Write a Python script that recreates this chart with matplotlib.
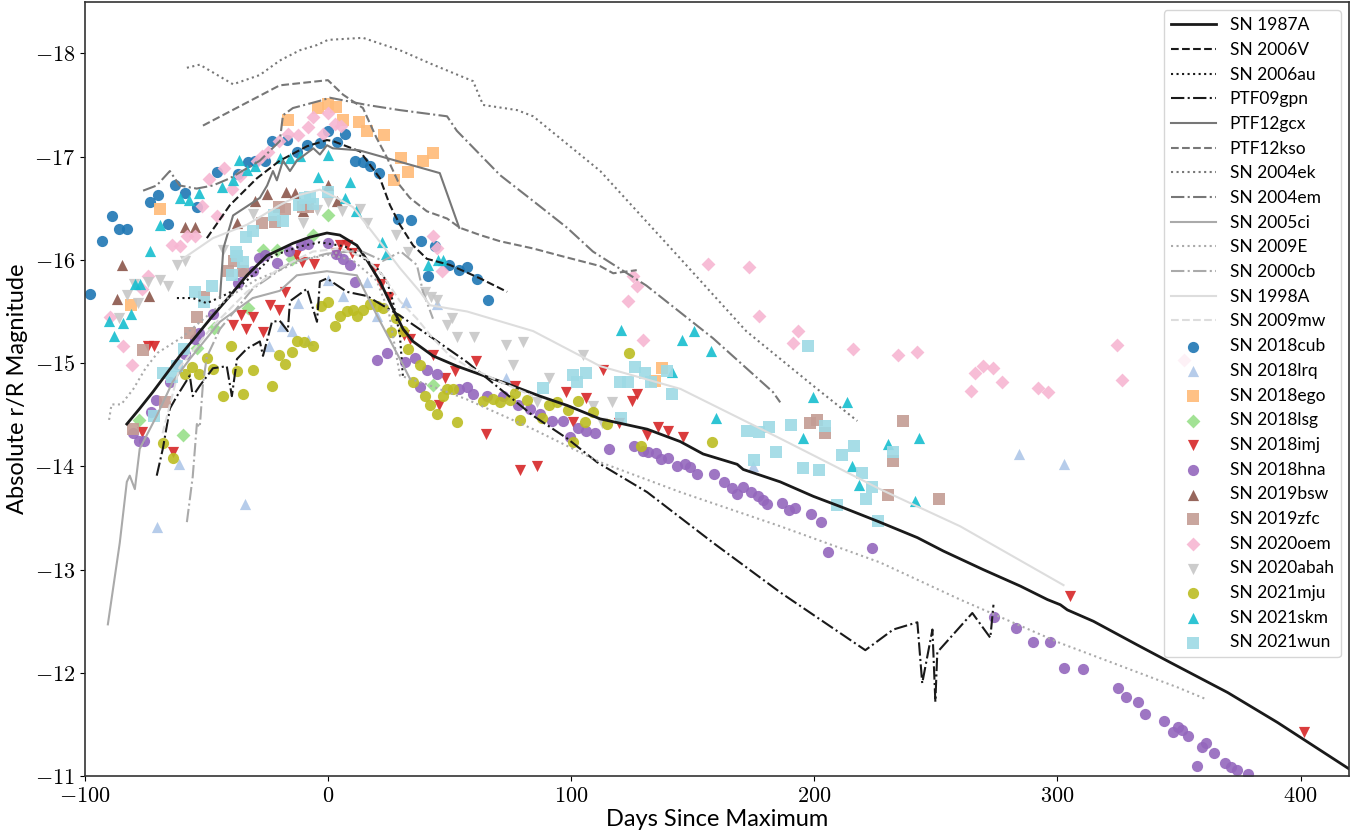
#light curves of the comparison SNe plus our sample, days since max vs abs r/R mag
import matplotlib
matplotlib.use('Agg')
import matplotlib.pyplot as plt
from matplotlib.ticker import FuncFormatter

plt.rcParams['mathtext.fontset'] = 'cm'
plt.rcParams['font.family'] = ['Lato', 'DejaVu Sans']

# ---- comparison light curves (lines) ----
sn1987a_d = [-82.7, -77.4, -72, -66.3, -60.9, -53.9, -47.3, -40.3, -33.3, -25.1, -14.4, -7.4, -0.4, 4.9, 11.9, 16, 21.4, 26.7, 30.9, 35, 43.2, 53.1, 63.8, 73.7, 87.2, 98.4, 111.9, 131.3, 144.9, 154.3, 168.3, 170.8, 186, 199.6, 211.9, 225.9, 242.4, 253.1, 269.5, 284.8, 295.9, 301.2, 304.1, 314.8, 332.9, 346.5, 370, 390.5, 420.6]
sn1987a_m = [-14.41, -14.56, -14.72, -14.90, -15.07, -15.27, -15.46, -15.65, -15.85, -16.04, -16.16, -16.22, -16.26, -16.24, -16.14, -16.0, -15.79, -15.53, -15.33, -15.21, -15.07, -14.97, -14.88, -14.80, -14.68, -14.59, -14.46, -14.36, -14.24, -14.12, -14.02, -13.97, -13.85, -13.71, -13.60, -13.47, -13.31, -13.18, -13.0, -12.84, -12.71, -12.66, -12.61, -12.50, -12.27, -12.10, -11.81, -11.52, -11.06]

sn2006v_d = [-49.8, -40.3, -29.2, -19.8, -8.6, -0.4, 2.1, 13.2, 21.4, 25.5, 29.6, 35, 40.7, 50.2, 62.6, 73.7]
sn2006v_m = [-16.21, -16.53, -16.79, -16.96, -17.10, -17.16, -17.15, -17.05, -16.79, -16.53, -16.34, -16.14, -16.01, -15.95, -15.82, -15.69]

sn2006au_d = [-62.1, -55.6, -49.8, -43.2, -37.4, -30.9, -22.6, -11.5, -3.3, 7, 13.2, 20.2, 24.3, 26.7, 29.6, 30.9]
sn2006au_m = [-15.63, -15.63, -15.58, -15.65, -15.72, -15.85, -16.04, -16.13, -16.17, -16.13, -16.04, -15.92, -15.79, -15.60, -15.27, -14.85]

ptf09gpn_d = [-70.4, -67.9, -65, -62.1, -56.8, -55.6, -52.7, -47.3, -41.6, -39.5, -37.4, -33.3, -28, -26.7, -23, -19.8, -16.5, -15.6, -8.6, -4.5, -3.3, -0.4, 7.8, 16, 29.6, 43.2, 57.2, 70.8, 84.4, 98.4, 110.7, 131.3, 158.4, 186, 221, 232.5, 242.4, 244.4, 248.6, 249.8, 250.6, 265, 272.4, 273.7]
ptf09gpn_m = [-13.91, -14.17, -14.56, -14.68, -14.88, -14.68, -14.78, -14.95, -14.97, -14.68, -15.04, -15.14, -15.21, -15.07, -15.40, -15.41, -15.31, -15.60, -15.72, -15.40, -15.79, -15.82, -15.69, -15.65, -15.46, -15.24, -15.01, -14.75, -14.49, -14.27, -14.04, -13.75, -13.26, -12.78, -12.22, -12.42, -12.49, -11.90, -12.42, -11.72, -12.20, -12.58, -12.34, -12.66]

ptf12gcx_d = [-44.4, -43, -39, -28, -25, -22.6, -21, -18.5, -15.6, -12.8, -6, -3.3, -0.4, 2, 13, 46, 54]
ptf12gcx_m = [-15.63, -16.11, -16.43, -16.6, -16.72, -16.86, -16.77, -16.96, -16.86, -16.96, -17.08, -17.02, -17.11, -17.08, -17.06, -16.84, -16.31]

ptf12kso_d = [-51.4, -19.8, 0, 6.2, 14.4, 20, 24.3, 29.6, 33.7, 40.7, 49, 54.3, 62.6, 70.8, 84.4, 95.5, 111.9, 117.3, 127]
ptf12kso_m = [-17.3, -17.69, -17.74, -17.6, -17.47, -17.18, -16.99, -16.72, -16.6, -16.47, -16.4, -16.31, -16.24, -16.18, -16.11, -16.04, -15.94, -15.87, -15.9]

sn2004ek_d = [-58, -52.7, -39, -28, -19.8, -11.5, -4.5, 0, 14.4, 29.6, 43.2, 59.7, 63.8, 77.8, 84.4, 112, 145, 172, 199.6, 217.7]
sn2004ek_m = [-17.86, -17.89, -17.70, -17.79, -17.93, -18.03, -18.08, -18.13, -18.15, -18.03, -17.89, -17.73, -17.5, -17.45, -17.39, -16.86, -16.01, -15.31, -14.78, -14.44]

sn2004em_d = [-76, -70.4, -65, -61, -54, -47.3, -40.3, -28, -19.8, -18.5, -14.4, -3.3, 0.8, 16, 29.6, 49, 53, 70.8, 84.4, 98.4, 109, 131, 158.4, 183, 186]
sn2004em_m = [-16.67, -16.72, -16.86, -16.72, -16.69, -16.72, -16.79, -16.96, -17.15, -17.4, -17.47, -17.54, -17.57, -17.5, -17.45, -17.39, -17.25, -16.82, -16.57, -16.31, -16.08, -15.75, -15.24, -14.72, -14.62]

sn2005ci_d = [-90.5, -85.6, -82.7, -81.5, -79.4, -77.4, -70.4, -63.8, -56.8, -44.4, -30.9, -19.8, -12.8, -0.4, 11.9, 20.2, 29.6, 33.7]
sn2005ci_m = [-12.47, -13.26, -13.85, -13.91, -13.78, -14.17, -14.49, -14.82, -15.04, -15.40, -15.63, -15.70, -15.85, -15.89, -15.85, -15.46, -15.04, -14.85]

sn2009e_d = [-90, -89, -85, -80, -75, -70, -60, -50, -40, -30, -20, -10, 0, 10, 20, 25, 29.6, 40, 57, 84.4, 112, 145, 186, 227, 260, 301, 349.4, 361.7]
sn2009e_m = [-14.45, -14.6, -14.6, -14.75, -14.95, -15.1, -15.25, -15.45, -15.65, -15.8, -15.9, -16.0, -16.05, -16.0, -15.8, -15.5, -14.88, -14.8, -14.65, -14.36, -14.04, -13.75, -13.42, -13.07, -12.71, -12.29, -11.86, -11.74]

sn2000cb_d = [-58, -55.6, -53.9, -52.7, -51.4, -49.8, -44.4, -30.9, -15.6, -0.4, 13.2, 22.6, 30, 36.6, 39.1, 43.2]
sn2000cb_m = [-13.46, -13.90, -14.41, -14.38, -14.80, -15.06, -15.33, -15.72, -15.97, -16.06, -16.09, -15.99, -16.08, -15.95, -15.69, -15.43]

sn1998a_d = [-59.7, -47.3, -33.3, -19.8, -11.5, -3.3, 3.7, 10.3, 20.2, 29.6, 37.9, 42, 57.2, 84.4, 112, 145, 186, 227, 260, 302.5]
sn1998a_m = [-16.01, -16.21, -16.34, -16.53, -16.63, -16.68, -16.6, -16.51, -16.21, -15.92, -15.69, -15.56, -15.5, -15.31, -14.97, -14.75, -14.27, -13.78, -13.42, -12.85]

sn2009mw_d = [-68, -61, -47.3, -33.3, -19.8, -6.2, 5, 16, 22.6, 29.6, 36.6, 43.2, 50.2, 57.2, 70.8, 84.4]
sn2009mw_m = [-14.32, -14.96, -15.36, -15.69, -15.92, -16.08, -16.11, -16.01, -15.85, -15.6, -15.43, -15.24, -15.07, -14.97, -14.82, -14.68]

# ---- our sample (scatter) ----
cub_d = [-97.9, -93, -88.9, -86, -82.7, -73.3, -70, -65.8, -63, -58.8, -53.9, -45.7, -37, -32.9, -30, -26, -23, -16.9, -12.8, -8.6, -3.3, 0, 3.7, 7, 11.1, 14.4, 17.3, 21, 28.8, 34.2, 38.3, 44, 41.2, 49.8, 53.9, 57.2, 61.3, 65.8]
cub_m = [-15.67, -16.18, -16.42, -16.30, -16.30, -16.56, -16.63, -16.35, -16.72, -16.65, -16.51, -16.85, -16.83, -16.95, -16.96, -16.96, -17.15, -17.16, -17.04, -17.11, -17.13, -17.25, -17.14, -17.22, -16.96, -16.95, -16.91, -16.84, -16.40, -16.39, -16.18, -16.13, -15.84, -15.95, -15.90, -15.93, -15.81, -15.61]

lrq_d = [-70.4, -61.3, -34.2, -24.3, -18.9, -14.8, -12.3, -8.2, 0, 6.2, 16, 20.2, 32.1, 44.9, 73.3, 174.9, 284.4, 302.5]
lrq_m = [-13.41, -14.02, -13.64, -15.17, -15.36, -15.31, -15.58, -15.22, -15.80, -15.65, -15.79, -15.46, -15.59, -15.57, -14.86, -14.0, -14.12, -14.02]

ego_d = [-81, -69.1, -16.5, -4.1, 0, 3.3, 6.2, 12.8, 16, 23, 30, 32.9, 27.2, 39.1, 43.2, 137.4, 134.6]
ego_m = [-15.56, -16.49, -17.35, -17.47, -17.51, -17.48, -17.35, -17.33, -17.25, -17.21, -16.99, -16.85, -16.77, -16.96, -17.03, -14.95, -14.83]

lsg_d = [-77.8, -59.7, -53.9, -46.9, -32.9, -26.7, -21, -14.8, -6.2, 0, 43.2]
lsg_m = [-14.45, -14.30, -15.15, -15.34, -15.53, -16.10, -16.10, -16.01, -16.24, -16.43, -14.79]

imj_d = [-76.5, -74.1, -71.6, -63.8, -39.1, -35.8, -33.7, -30.9, -26.7, -23.9, -20.2, -17.7, -13.2, -10.7, -5.8, 3.3, 4.9, 7.8, 9.9, 18.9, 21.8, 25.1, 31.3, 33.7, 43.2, 48.1, 52.3, 45.7, 60.9, 65, 77, 79, 86, 97.9, 100.8, 106.2, 113.2, 119.8, 125.1, 127.2, 131.3, 135.8, 139.9, 146.1, 305.3, 401.2]
imj_m = [-14.33, -15.17, -15.17, -14.14, -15.37, -15.47, -15.33, -15.45, -15.30, -15.56, -15.51, -15.69, -16.05, -15.98, -15.96, -16.07, -16.14, -16.14, -16.07, -15.91, -15.77, -15.64, -15.27, -15.23, -15.08, -14.86, -14.92, -14.59, -15.02, -14.31, -14.78, -13.96, -14.0, -14.72, -14.43, -14.66, -14.93, -14.42, -14.63, -14.70, -14.30, -14.38, -14.34, -14.28, -12.74, -11.43]

hna_d = [-80.2, -77.8, -75.7, -72.8, -70.8, -65, -62.1, -58.8, -54.7, -53.1, -47.3, -37, -35, -30.9, -28.4, -25.9, -21, -16, -11.1, -8.2, 0, 3.3, 6.2, 9.1, 11.1, 20.2, 24.3, 31.7, 35.8, 37.9, 40.7, 44.9, 53.9, 57.2, 59.7, 65.4, 72, 78.2, 83.1, 87.2, 92.2, 96.7, 99.6, 102.9, 106.2, 109.9, 115.6, 125.9, 129.6, 131.7, 135, 137, 139.9, 143.6, 146.9, 149, 151.9, 158.8, 163, 166.3, 168.3, 170.8, 174.1, 177, 179, 180.7, 186.8, 189.7, 192.2, 198.8, 202.9, 205.8, 223.9, 274.1, 283.1, 290.1, 297.1, 302.5, 310.7, 325.1, 328.4, 333.3, 336.2, 344, 347.7, 349.4, 351.4, 353.5, 359.3, 361.3, 364.2, 357.2, 369.1, 371.2, 373.7, 378.2]
hna_m = [-14.32, -14.25, -14.25, -14.53, -14.64, -14.82, -14.99, -15.09, -15.23, -15.29, -15.48, -15.78, -15.87, -15.89, -16.02, -16.05, -15.97, -16.09, -16.14, -16.15, -16.16, -16.06, -16.01, -15.95, -15.79, -15.03, -15.10, -15.01, -15.05, -14.77, -14.93, -14.89, -14.75, -14.77, -14.70, -14.68, -14.68, -14.59, -14.56, -14.51, -14.44, -14.44, -14.28, -14.37, -14.34, -14.32, -14.17, -14.20, -14.15, -14.14, -14.13, -14.07, -14.08, -14.0, -14.02, -13.99, -13.93, -13.93, -13.85, -13.79, -13.73, -13.80, -13.75, -13.71, -13.67, -13.64, -13.65, -13.58, -13.60, -13.54, -13.46, -13.17, -13.21, -12.54, -12.43, -12.30, -12.30, -12.05, -12.04, -11.85, -11.77, -11.72, -11.60, -11.53, -11.43, -11.48, -11.45, -11.39, -11.28, -11.32, -11.22, -11.10, -11.13, -11.09, -11.06, -11.02]

bsw_d = [-86.8, -84.8, -73.7, -58.8, -54.7, -37.4, -30, -25.1, -17.3, -13.6, -10.3, 0, 3.7]
bsw_m = [-15.62, -15.95, -15.65, -16.32, -16.32, -16.36, -16.57, -16.64, -16.66, -16.65, -16.47, -16.72, -16.57]

zfc_d = [-80.2, -76.1, -67.1, -56.8, -53.9, -51, -41.2, -38.7, -35, -27.2, -21.8, -20.2, -17.7, -10.3, -8.2, 198.4, 201.2, 204.5, 230.5, 232.5, 236.6, 251.4]
zfc_m = [-14.36, -15.13, -14.62, -15.29, -15.45, -15.64, -15.89, -15.99, -15.89, -16.36, -16.37, -16.51, -16.49, -16.51, -16.51, -14.42, -14.45, -14.32, -13.72, -14.05, -14.44, -13.68]

oem_d = [-89.7, -84.4, -80.7, -76.5, -74.1, -64.2, -60.9, -58, -54.7, -51.9, -49, -45.7, -42.8, -39.5, -36.2, -29.2, -27.2, -24.7, -20.2, -16.5, -12.3, -8.2, -6.2, -2.1, 0, 2.9, 5.3, 43.2, 44.9, 46.9, 123.5, 125.5, 127.2, 129.6, 156.4, 173.3, 177.4, 191.4, 193.4, 216, 234.6, 242.4, 264.6, 266.3, 269.5, 273.7, 277.4, 292.2, 296.3, 324.3, 326.7, 351.9]
oem_m = [-15.45, -15.17, -14.98, -15.72, -15.84, -16.14, -16.13, -16.23, -16.23, -16.52, -16.78, -16.42, -16.89, -16.69, -16.81, -16.96, -17.01, -17.04, -17.15, -17.22, -17.21, -17.29, -17.38, -17.22, -17.42, -17.32, -17.30, -16.23, -16.11, -15.89, -15.60, -15.84, -15.75, -15.22, -15.96, -15.93, -15.46, -15.19, -15.31, -15.14, -15.08, -15.11, -14.73, -14.90, -14.97, -14.95, -14.82, -14.76, -14.72, -15.18, -14.84, -15.03]

abah_d = [-86, -82.7, -79.8, -78.2, -74.1, -69.1, -65.8, -62.1, -58.8, -43.2, -30.9, -10.3, -4.5, 0, 5.8, 13.2, 16, 28, 32.9, 39.9, 42.4, 44.9, 51, 49, 53.1, 60.1, 73.3, 80.2, 76.1, 90.9, 86, 104.9, 116.9, 109.1, 112.8]
abah_m = [-15.44, -15.66, -15.77, -15.58, -15.79, -15.80, -15.75, -15.95, -15.99, -16.10, -16.44, -16.36, -16.48, -16.56, -16.47, -16.49, -16.36, -16.24, -16.08, -15.69, -15.64, -15.61, -15.44, -15.37, -15.25, -15.25, -15.18, -15.20, -14.98, -14.86, -14.62, -15.08, -14.62, -14.58, -14.42]

mju_d = [-67.9, -63.8, -58.8, -56, -53.1, -49.8, -47.3, -43.2, -39.9, -37.4, -35, -30.9, -23, -20.2, -17.7, -14.8, -12.8, -9.9, -6.2, -2.9, 0, 2.9, 4.9, 7.8, 10.3, 11.9, 14.4, 17.3, 20.2, 22.6, 25.9, 28, 30.9, 32.9, 37.9, 35, 39.9, 42, 44.9, 47.3, 49, 51.4, 53.1, 63.8, 67.9, 70.8, 74.9, 77, 79, 81.9, 88.1, 90.9, 94.2, 98.8, 102.9, 100.8, 105.8, 109.1, 114.8, 123.9, 128.8, 158]
mju_m = [-14.23, -14.08, -14.89, -14.96, -14.89, -15.05, -14.94, -14.68, -15.17, -14.92, -14.70, -14.93, -14.78, -15.08, -14.99, -15.11, -15.21, -15.20, -15.17, -15.55, -15.59, -15.36, -15.46, -15.50, -15.51, -15.46, -15.51, -15.57, -15.55, -15.53, -15.30, -15.44, -15.31, -15.14, -14.98, -14.82, -14.68, -14.59, -14.51, -14.68, -14.75, -14.75, -14.43, -14.63, -14.65, -14.62, -14.64, -14.71, -14.45, -14.64, -14.47, -14.59, -14.62, -14.55, -14.63, -14.24, -14.43, -14.53, -14.41, -15.10, -14.20, -14.24]

skm_d = [-90.1, -88.1, -84.4, -81.1, -79.4, -77.4, -73.3, -69.1, -60.9, -57.2, -53.1, -43.6, -39.1, -36.6, -33.3, -30, -19.8, -15.6, -11.5, -4.1, 0, 9.1, 7, 11.5, 22.2, 23.9, 41.2, 45.3, 47.3, 120.6, 141.6, 145.7, 150.6, 157.6, 159.7, 195.5, 199.6, 213.6, 215.6, 218.5, 230.5, 243.2, 241.6]
skm_m = [-15.41, -15.26, -15.39, -15.48, -15.77, -15.77, -16.09, -16.34, -16.60, -16.58, -16.65, -16.71, -16.77, -16.97, -16.87, -16.91, -16.99, -16.99, -17.01, -16.80, -17.02, -16.75, -16.60, -16.47, -16.17, -16.06, -15.95, -16.00, -16.00, -15.32, -14.91, -15.22, -15.31, -15.12, -14.47, -14.27, -14.67, -14.62, -14.00, -13.82, -14.22, -14.27, -13.66]

wun_d = [-71.6, -67.9, -64.2, -62.1, -59.3, -54.7, -51, -47.7, -39.5, -37.9, -35, -33.7, -30.9, -37.4, -22.2, -18.5, -11.9, -9.5, -7.4, -6.2, 0, 88.5, 100.8, 102.5, 106.2, 120.2, 120.6, 123.5, 126.3, 130.5, 132.9, 139.5, 141.6, 172.4, 175.3, 177.4, 181.5, 184.4, 190.5, 195.5, 197.5, 202, 204.5, 209.5, 211.5, 216.5, 219.8, 221.4, 223.9, 226.3, 232.5]
wun_m = [-14.49, -14.90, -14.87, -14.97, -15.14, -15.69, -15.59, -15.75, -15.85, -16.08, -15.98, -16.22, -16.28, -16.04, -16.43, -16.38, -16.53, -16.60, -16.61, -16.54, -16.66, -14.76, -14.88, -14.82, -14.90, -14.82, -14.47, -14.82, -14.96, -14.90, -14.82, -14.92, -14.70, -14.34, -14.06, -14.33, -14.38, -14.14, -14.40, -13.98, -15.17, -13.96, -14.39, -13.63, -14.11, -14.20, -13.94, -13.68, -13.80, -13.47, -14.14]

fig, ax = plt.subplots(figsize=(13.67, 8.4), dpi=100)
fig.subplots_adjust(left=0.062, right=0.987, bottom=0.076, top=0.998)

blk = '#1a1a1a'
g1 = '#777777'
g2 = '#aaaaaa'
g3 = '#dddddd'
ax.plot(sn1987a_d, sn1987a_m, color=blk, ls='-', lw=2.0, label='SN 1987A')
ax.plot(sn2006v_d, sn2006v_m, color=blk, ls='--', lw=1.5, label='SN 2006V')
ax.plot(sn2006au_d, sn2006au_m, color=blk, ls=':', lw=1.5, label='SN 2006au')
ax.plot(ptf09gpn_d, ptf09gpn_m, color=blk, ls='-.', lw=1.5, label='PTF09gpn')
ax.plot(ptf12gcx_d, ptf12gcx_m, color=g1, ls='-', lw=1.5, label='PTF12gcx')
ax.plot(ptf12kso_d, ptf12kso_m, color=g1, ls='--', lw=1.5, label='PTF12kso')
ax.plot(sn2004ek_d, sn2004ek_m, color=g1, ls=':', lw=1.5, label='SN 2004ek')
ax.plot(sn2004em_d, sn2004em_m, color=g1, ls='-.', lw=1.5, label='SN 2004em')
ax.plot(sn2005ci_d, sn2005ci_m, color=g2, ls='-', lw=1.5, label='SN 2005ci')
ax.plot(sn2009e_d, sn2009e_m, color=g2, ls=':', lw=1.5, label='SN 2009E')
ax.plot(sn2000cb_d, sn2000cb_m, color=g2, ls='-.', lw=1.5, label='SN 2000cb')
ax.plot(sn1998a_d, sn1998a_m, color=g3, ls='-', lw=1.5, label='SN 1998A')
ax.plot(sn2009mw_d, sn2009mw_m, color=g3, ls='--', lw=1.5, label='SN 2009mw')

# sample, tab20 colours
sample = [
    ('SN 2018cub', cub_d, cub_m, '#1f77b4', 'o'),
    ('SN 2018lrq', lrq_d, lrq_m, '#aec7e8', '^'),
    ('SN 2018ego', ego_d, ego_m, '#ffbb78', 's'),
    ('SN 2018lsg', lsg_d, lsg_m, '#98df8a', 'D'),
    ('SN 2018imj', imj_d, imj_m, '#d62728', 'v'),
    ('SN 2018hna', hna_d, hna_m, '#9467bd', 'o'),
    ('SN 2019bsw', bsw_d, bsw_m, '#8c564b', '^'),
    ('SN 2019zfc', zfc_d, zfc_m, '#c49c94', 's'),
    ('SN 2020oem', oem_d, oem_m, '#f7b6d2', 'D'),
    ('SN 2020abah', abah_d, abah_m, '#c7c7c7', 'v'),
    ('SN 2021mju', mju_d, mju_m, '#bcbd22', 'o'),
    ('SN 2021skm', skm_d, skm_m, '#17becf', '^'),
    ('SN 2021wun', wun_d, wun_m, '#9edae5', 's'),
]
for name, d, m, c, mk in sample:
    s = 50 if mk == 'D' else 65
    ax.scatter(d, m, color=c, marker=mk, s=s, alpha=0.9, linewidths=0, label=name)

ax.set_xlim(-100, 420)
ax.set_ylim(-11, -18.5)
ax.set_xticks([-100, 0, 100, 200, 300, 400])
ax.set_yticks([-18, -17, -16, -15, -14, -13, -12, -11])
fmt = FuncFormatter(lambda v, p: r'$%d$' % v)
ax.xaxis.set_major_formatter(fmt)
ax.yaxis.set_major_formatter(fmt)
ax.tick_params(labelsize=16)
ax.set_xlabel('Days Since Maximum', fontsize=17, labelpad=2)
ax.set_ylabel('Absolute r/R Magnitude', fontsize=17, labelpad=4)
for sp in ax.spines.values():
    sp.set_color('#333333')
    sp.set_linewidth(1.2)

ax.legend(loc='upper right', fontsize=12.5, scatterpoints=1, handlelength=2.6)

plt.savefig('out.png', dpi=100)
